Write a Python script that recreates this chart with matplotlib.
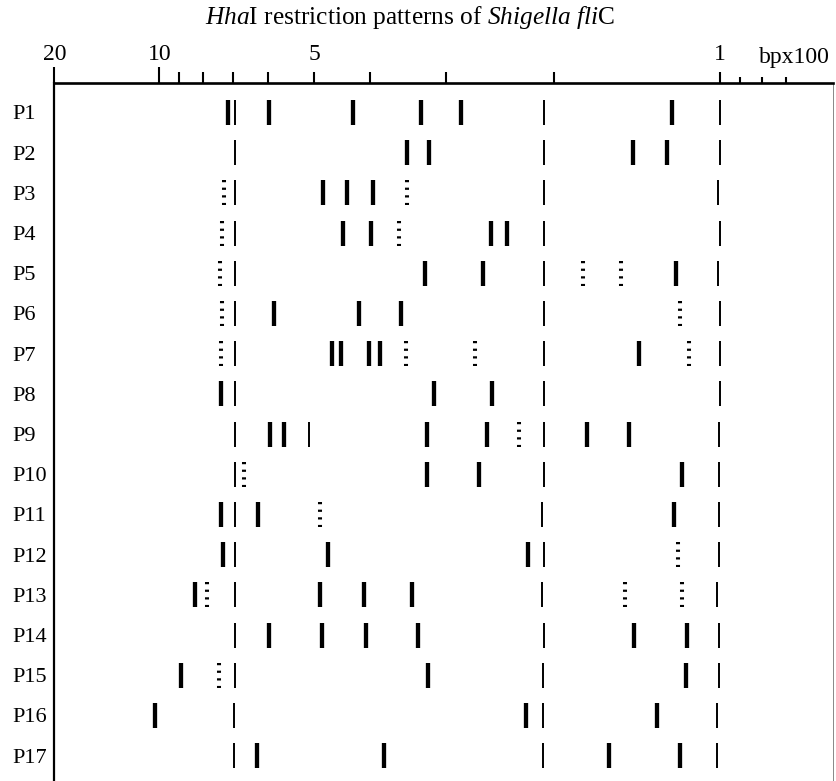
import numpy as np
import matplotlib
matplotlib.use("Agg")
import matplotlib.pyplot as plt
from matplotlib.ticker import FixedLocator, FixedFormatter, NullFormatter

plt.rcParams['font.family'] = ['Liberation Serif', 'DejaVu Serif']
plt.rcParams['mathtext.fontset'] = 'custom'
plt.rcParams['mathtext.rm'] = 'Liberation Serif'
plt.rcParams['mathtext.it'] = 'Liberation Serif:italic'
plt.rcParams['lines.scale_dashes'] = False

# ---------------- data (fragment sizes in bp x 100) ----------------
lanes = [f"P{i}" for i in range(1, 18)]

strong_bands = [
    [7.17, 5.97, 4.28, 3.30, 2.84, 1.22],    # P1
    [3.48, 3.20, 1.44, 1.25],                # P2
    [4.83, 4.39, 3.96],                      # P3
    [4.46, 3.99, 2.53, 2.39],                # P4
    [3.25, 2.61, 1.20],                      # P5
    [5.85, 4.18, 3.56],                      # P6
    [4.66, 4.49, 4.02, 3.86, 1.40],          # P7
    [7.40, 3.14, 2.52],                      # P8
    [5.95, 5.63, 3.22, 2.57, 1.74, 1.46],    # P9
    [3.22, 2.65, 1.17],                      # P10
    [7.40, 6.27, 1.21],                      # P11
    [7.33, 4.73, 2.21],                      # P12
    [8.33, 4.88, 4.10, 3.41],                # P13
    [5.97, 4.84, 4.07, 3.34, 1.43, 1.146],   # P14
    [8.93, 3.21, 1.15],                      # P15
    [10.3, 2.22, 1.30],                      # P16
    [6.30, 3.80, 1.59, 1.18],                # P17
]

thin_bands = [
    [6.95, 2.08, 1.000],        # P1
    [6.95, 2.08, 1.000],        # P2
    [6.95, 2.08, 1.008],        # P3
    [6.95, 2.08, 1.000],        # P4
    [6.95, 2.08, 1.008],        # P5
    [6.95, 2.08, 1.000],        # P6
    [6.95, 2.08, 1.000],        # P7
    [6.95, 2.08, 1.000],        # P8
    [6.95, 5.10, 2.08, 1.004],  # P9
    [6.95, 2.08, 1.004],        # P10
    [6.95, 2.09, 1.004],        # P11
    [6.95, 2.08, 1.004],        # P12
    [6.95, 2.09, 1.013],        # P13
    [6.95, 2.08, 1.004],        # P14
    [6.95, 2.085, 1.004],       # P15
    [6.98, 2.085, 1.013],       # P16
    [6.98, 2.085, 1.013],       # P17
]

faint_bands = [
    [],                          # P1
    [],                          # P2
    [7.30, 3.48],                # P3
    [7.36, 3.59],                # P4
    [7.43, 1.77, 1.51],          # P5
    [7.36, 1.18],                # P6
    [7.40, 3.49, 2.69, 1.14],    # P7
    [],                          # P8
    [2.28],                      # P9
    [6.67],                      # P10
    [4.88],                      # P11
    [1.19],                      # P12
    [7.87, 1.49, 1.17],          # P13
    [],                          # P14
    [7.45],                      # P15
    [],                          # P16
    [],                          # P17
]

labeled_ticks = [20, 10]
minor_ticks = [9, 8, 7, 6, 5, 4, 3, 2, 1]
minor_labels = ['', '', '', '', '5', '', '', '', '1']
small_ticks = [0.9, 0.8, 0.7]

# gel standard curve (size -> relative migration) defining the x scale
ladder_sizes = [20, 10, 9, 8, 7, 6, 5, 4, 3, 2, 1, 0.9, 0.8, 0.7]
ladder_migration = [0.0, 10.5, 12.5, 14.9, 17.9, 21.34, 25.97, 31.6,
                    39.17, 50.0, 66.57, 68.57, 70.8, 73.14]

_lx = np.log10(np.array(ladder_sizes, float))[::-1]   # increasing
_t = -np.array(ladder_migration, float)[::-1]          # increasing


def _extrap_interp(x, xp, fp):
    out = np.interp(x, xp, fp)
    s_lo = (fp[1] - fp[0]) / (xp[1] - xp[0])
    s_hi = (fp[-1] - fp[-2]) / (xp[-1] - xp[-2])
    out = np.where(x < xp[0], fp[0] + (x - xp[0]) * s_lo, out)
    out = np.where(x > xp[-1], fp[-1] + (x - xp[-1]) * s_hi, out)
    return out


def size_forward(v):
    v = np.asarray(v, float)
    lv = np.log10(np.clip(v, 1e-6, None))
    return _extrap_interp(lv, _lx, _t)


def size_inverse(t):
    t = np.asarray(t, float)
    return 10 ** _extrap_interp(t, _t, _lx)


# ---------------- figure ----------------
W, H = 836, 781
fig = plt.figure(figsize=(W / 100, H / 100), dpi=100)
ax = fig.add_axes([54.3 / W, 0.0, (833 - 54.3) / W, (H - 82.7) / H])

half = 0.31
for i, lane in enumerate(lanes):
    row = i + 1
    if strong_bands[i]:
        ax.vlines(strong_bands[i], row - half, row + half, colors='black',
                  linewidth=3.1)
    if thin_bands[i]:
        ax.vlines(thin_bands[i], row - half, row + half, colors='black',
                  linewidth=1.4)
    if faint_bands[i]:
        ax.vlines(faint_bands[i], row - half, row + half, colors='black',
                  linewidth=2.9, linestyles=[(0, (1.6, 3.9))])

ax.set_xscale('function', functions=(size_forward, size_inverse))
ax.set_xlim(20, 0.534)
ax.set_ylim(17.63, 0.259)

# short ticks beyond 1 (twin axis, created before styling the main axis)
ax2 = ax.twiny()
ax2.set_xscale('function', functions=(size_forward, size_inverse))
ax2.set_xlim(20, 0.534)
ax2.xaxis.set_major_locator(FixedLocator(small_ticks))
ax2.xaxis.set_major_formatter(NullFormatter())
ax2.xaxis.set_minor_locator(FixedLocator([]))
ax2.tick_params(axis='x', which='major', top=True, bottom=False,
                labeltop=False, labelbottom=False,
                length=4, width=1.5, direction='out')
for s in ax2.spines.values():
    s.set_visible(False)

# x axis on top
ax.xaxis.tick_top()
ax.xaxis.set_label_position('top')
ax.xaxis.set_major_locator(FixedLocator(labeled_ticks))
ax.xaxis.set_major_formatter(FixedFormatter([str(t) for t in labeled_ticks]))
ax.xaxis.set_minor_locator(FixedLocator(minor_ticks))
ax.xaxis.set_minor_formatter(FixedFormatter(minor_labels))
ax.tick_params(axis='x', which='major', top=True, bottom=False,
               labeltop=True, labelbottom=False, length=11.5, width=1.5,
               pad=1.5, labelsize=17, direction='out')
ax.tick_params(axis='x', which='minor', top=True, bottom=False,
               labeltop=True, labelbottom=False, length=8, width=1.5,
               pad=5.1, labelsize=17, direction='out')

# y axis: lane labels
ax.set_yticks(range(1, len(lanes) + 1))
ax.set_yticklabels(lanes)
ax.tick_params(axis='y', which='both', length=0, pad=30.5, labelsize=16)
for lab in ax.get_yticklabels():
    lab.set_horizontalalignment('left')

ax.spines['top'].set_linewidth(1.9)
ax.spines['left'].set_linewidth(1.6)
ax.spines['right'].set_linewidth(0.7)
ax.spines['right'].set_color('#888888')
ax.spines['bottom'].set_visible(False)

ax.annotate('bpx100', xy=(0.996, 1.0), xycoords='axes fraction',
            xytext=(0, 14.5), textcoords='offset points',
            ha='right', va='baseline', fontsize=17)

fig.text(410 / W, 1 - 24 / H,
         r'$\mathit{Hha}$I restriction patterns of $\mathit{Shigella}$ $\mathit{fli}$C',
         ha='center', va='baseline', fontsize=18.3)

fig.savefig('out.png', dpi=100)
